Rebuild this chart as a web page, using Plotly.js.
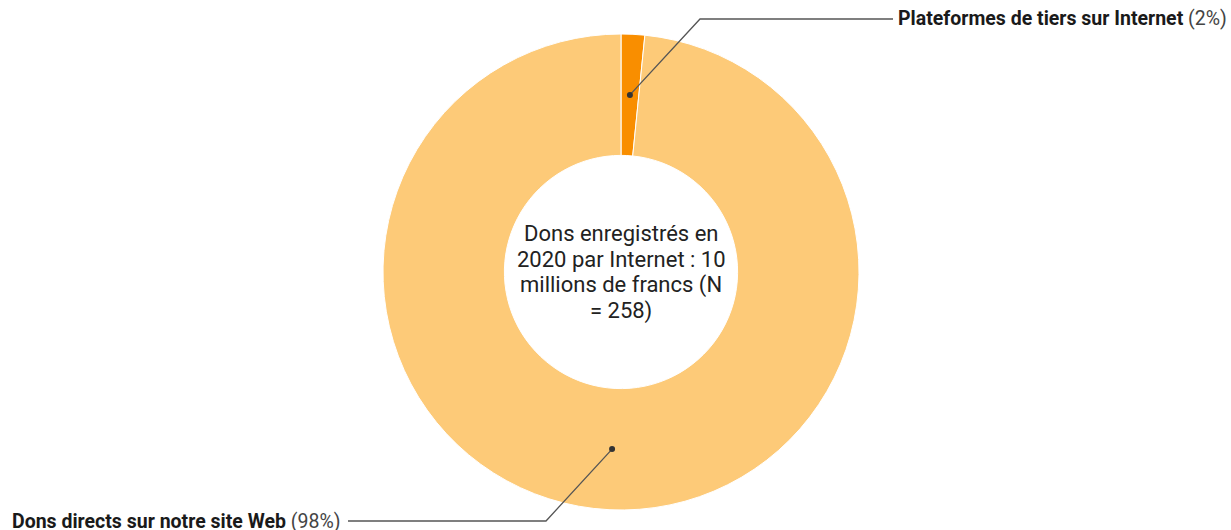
<!DOCTYPE html>
<html>
<head>
<meta charset="utf-8">
<script src="https://cdn.plot.ly/plotly-3.0.1.min.js"></script>
<style>html,body{margin:0;padding:0;background:#fff;}#chart{width:1231px;height:530px;}</style>
</head>
<body>
<div id="chart"></div>
<script>
// Data
const labels = ["Plateformes de tiers sur Internet", "Dons directs sur notre site Web"];
const values = [1.6, 98.4];
const colors = ["#f98e00", "#fdca78"];
const centerLines = ["Dons enregistrés en", "2020 par Internet : 10", "millions de francs (N", "= 258)"];

// Layout geometry (pixels)
const W = 1231, H = 530;
const M = {l: 11, r: 0, t: 34, b: 20};
const HOLE = 0.49;
const pw = W - M.l - M.r, ph = H - M.t - M.b;
const cx = M.l + pw / 2, cy = M.t + ph / 2;
const R = Math.min(pw, ph) / 2;
const rMid = R * (1 + HOLE) / 2;
const toPX = x => (x - M.l) / pw;
const toPY = y => (H - M.b - y) / ph;

// Leader-line elbows and label anchors (pixels)
const leaders = [
  {elbow: [700, 19], end: [893, 19], textX: 1229, anchor: "right"},
  {elbow: [546, 521], end: [348, 521], textX: 10, anchor: "left"}
];

const total = values.reduce((a, b) => a + b, 0);
let cum = 0;
const shapes = [], annotations = [];
values.forEach((v, i) => {
  const mid = (cum + v / 2) / total * 2 * Math.PI;
  cum += v;
  const dx = cx + rMid * Math.sin(mid), dy = cy - rMid * Math.cos(mid);
  const L = leaders[i];
  shapes.push({type: "path", xref: "paper", yref: "paper",
    path: `M ${toPX(dx)} ${toPY(dy)} L ${toPX(L.elbow[0])} ${toPY(L.elbow[1])} L ${toPX(L.end[0])} ${toPY(L.end[1])}`,
    line: {color: "#555", width: 1.3}});
  shapes.push({type: "circle", xref: "paper", yref: "paper",
    x0: toPX(dx - 3), x1: toPX(dx + 3), y0: toPY(dy + 3), y1: toPY(dy - 3),
    fillcolor: "#333", line: {width: 0}});
  const pct = Math.round(v / total * 100);
  annotations.push({xref: "paper", yref: "paper", x: toPX(L.textX), y: toPY(L.end[1]),
    xanchor: L.anchor, yanchor: "middle", showarrow: false,
    text: `<b>${labels[i]}</b> <span style="color:#444">(${pct}%)</span>`,
    font: {family: "Roboto, sans-serif", size: 19.5, color: "#1a1a1a"}});
});
const LINE_H = 25.8;
centerLines.forEach((t, i) => {
  annotations.push({xref: "paper", yref: "paper", x: toPX(cx),
    y: toPY(cy + (i - (centerLines.length - 1) / 2) * LINE_H),
    xanchor: "center", yanchor: "middle", showarrow: false, text: t,
    font: {family: "Roboto, sans-serif", size: 22, color: "#222"}});
});

Plotly.newPlot("chart", [{
  type: "pie", labels: labels, values: values, hole: HOLE,
  sort: false, direction: "clockwise", rotation: 0,
  marker: {colors: colors, line: {color: "#fff", width: 1}},
  textinfo: "none", hoverinfo: "none", showlegend: false
}], {
  width: W, height: H, margin: M, paper_bgcolor: "#fff",
  shapes: shapes, annotations: annotations, showlegend: false
}, {displayModeBar: false, staticPlot: true});
</script>
</body>
</html>
